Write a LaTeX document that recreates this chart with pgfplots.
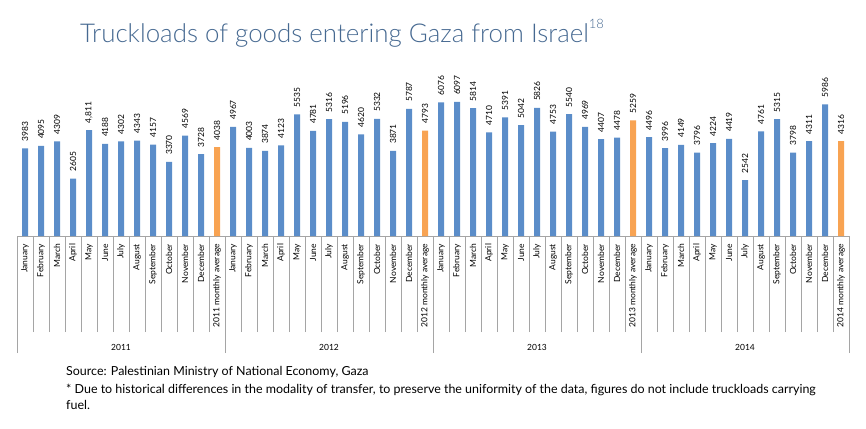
\documentclass[border=0pt]{standalone}
\usepackage{fontspec}
\setmainfont{Lato}
\newfontfamily\titlefont{Lato Light}
\usepackage{pgfplots}
\usepackage{pgfplotstable}
\pgfplotsset{compat=1.18}
\definecolor{barblue}{RGB}{91,141,201}
\definecolor{barorange}{RGB}{248,163,82}
\definecolor{titleblue}{RGB}{70,105,145}
\definecolor{linegrey}{RGB}{165,165,165}

\pgfplotstableread{
x y label
0 3983 3983
1 4095 4095
2 4309 4309
3 2605 2605
4 4811 {4,811}
5 4188 4188
6 4302 4302
7 4343 4343
8 4157 4157
9 3370 3370
10 4569 4569
11 3728 3728
13 4967 4967
14 4003 4003
15 3874 3874
16 4123 4123
17 5535 5535
18 4781 4781
19 5316 5316
20 5196 5196
21 4620 4620
22 5332 5332
23 3871 3871
24 5787 5787
26 6076 6076
27 6097 6097
28 5814 5814
29 4710 4710
30 5391 5391
31 5042 5042
32 5826 5826
33 4753 4753
34 5540 5540
35 4969 4969
36 4407 4407
37 4478 4478
39 4496 4496
40 3996 3996
41 4149 4149
42 3796 3796
43 4224 4224
44 4419 4419
45 2542 2542
46 4761 4761
47 5315 5315
48 3798 3798
49 4311 4311
50 5986 5986
}\monthly

\pgfplotstableread{
x y label
12 4038 4038
25 4793 4793
38 5259 5259
51 4316 4316
}\averages

\begin{document}
\begin{tikzpicture}
\path[use as bounding box] (0,0) rectangle (866bp,429bp);
\node[anchor=base west, font=\titlefont\fontsize{26}{30}\selectfont, text=titleblue, inner sep=0pt] at (80bp,386bp) {Truckloads of goods entering Gaza from Israel\raisebox{0.55em}{\fontsize{13}{14}\selectfont 18}};
\begin{axis}[
  at={(17bp,193bp)}, anchor=south west,
  scale only axis, width=832bp, height=153.9bp,
  xmin=-0.5, xmax=51.5, ymin=0, ymax=7000,
  clip=false,
  ybar, bar width=6bp, bar shift=0pt,
  axis lines*=left, hide y axis,
  axis line style={linegrey, line width=0.8pt},
  xtick={0,...,51},
  xticklabels={January,February,March,April,May,June,July,August,September,October,November,December,2011 monthly average,
    January,February,March,April,May,June,July,August,September,October,November,December,2012 monthly average,
    January,February,March,April,May,June,July,August,September,October,November,December,2013 monthly average,
    January,February,March,April,May,June,July,August,September,October,November,December,2014 monthly average},
  xticklabel style={rotate=90, anchor=east, font=\fontsize{8.5}{9}\selectfont, inner sep=0pt, outer xsep=8bp},
  major tick length=0pt,
  minor xtick={-0.5,0.5,...,51.5},
  minor tick length=96bp,
  tick align=outside,
  tick style={linegrey, line width=0.8pt},
  extra x ticks={-0.5,12.5,25.5,38.5,51.5},
  extra x tick labels={},
  extra x tick style={major tick length=117bp},
  nodes near coords,
  point meta=explicit symbolic,
  every node near coord/.append style={rotate=90, anchor=west, font=\fontsize{8.5}{9}\selectfont, inner sep=0pt, outer xsep=7bp, text=black},
]
\addplot[fill=barblue, draw=none] table[x=x, y=y, meta=label] {\monthly};
\addplot[fill=barorange, draw=none] table[x=x, y=y, meta=label] {\averages};
\node[font=\fontsize{8.5}{9}\selectfont] at (axis cs:6,0) [yshift=-111bp] {2011};
\node[font=\fontsize{8.5}{9}\selectfont] at (axis cs:19,0) [yshift=-111bp] {2012};
\node[font=\fontsize{8.5}{9}\selectfont] at (axis cs:32,0) [yshift=-111bp] {2013};
\node[font=\fontsize{8.5}{9}\selectfont] at (axis cs:45,0) [yshift=-111bp] {2014};
\end{axis}
\node[anchor=base west, font=\fontsize{12.5}{14}\selectfont, inner sep=0pt] at (66bp,53bp) {Source: Palestinian Ministry of National Economy, Gaza};
\node[anchor=base west, font=\fontsize{12.5}{14}\selectfont, inner sep=0pt] at (66bp,36bp) {* Due to historical differences in the modality of transfer, to preserve the uniformity of the data, figures do not include truckloads carrying};
\node[anchor=base west, font=\fontsize{12.5}{14}\selectfont, inner sep=0pt] at (66bp,20bp) {fuel.};
\end{tikzpicture}
\end{document}
